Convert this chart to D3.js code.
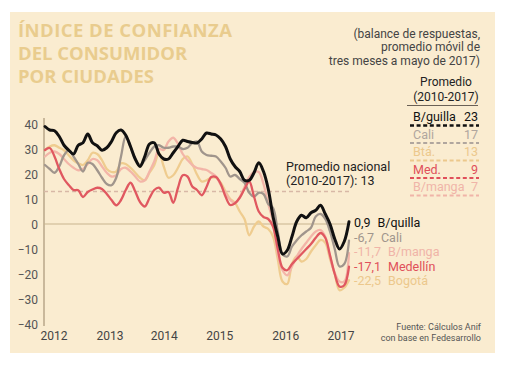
<!DOCTYPE html>
<html><head><meta charset="utf-8">
<script src="https://cdn.jsdelivr.net/npm/d3@7/dist/d3.min.js"></script>
<style>
html,body{margin:0;padding:0;background:#fff;}
svg{display:block;}
text{font-family:"Open Sans",sans-serif;}
</style></head>
<body>
<svg id="chart" width="506" height="366"></svg>
<script>
// ---- data (monthly, Jan 2012 .. May 2017) ----
const barranquilla = [39,37.6,37.3,35,31.5,29.5,28,31.5,32.5,36,32.5,31.3,29.5,30.5,33,36.5,37.6,35.5,31,26,23,27,32,32.5,28,26,26,28.5,31,33.5,33,32.6,32.4,34,36.4,36,35.6,34,31,26,23,21,17.5,17.5,20.5,24.5,21,14,3,-5,-12,-10.5,-5,1,3.5,2.5,4.5,5.5,7.5,4,0,-6,-10,-7,0.9];
const cali = [23.6,22,20.5,23,27.5,29.5,27,24,21,24.5,24,21.5,18.5,16,15.5,18.5,27,35,31,26,23.6,25.5,28.5,31,31.5,30.5,30.5,31,31,30,30.5,32.4,33,29,27.6,27.3,27,25,22.5,19,19.6,18,16.5,12.5,11,12.5,12,8,6.5,-3,-12,-13,-9,-6.5,-4.5,-3,-1.5,3,4,2,-3,-10,-17,-16,-6.7];
const bogota = [29.6,31,31.5,30.5,29.5,27.5,25.5,24.3,23.6,25.5,28.5,28,25.5,22,20.8,21,24.3,24,22.5,20.5,18.5,17.5,20.5,23.5,28.5,23,18.5,19.5,22.5,26,27,24,19.8,17,17.5,18.5,18.5,16.5,13,10,8.5,5,2,-4.5,-1,1,-1,-2,-5,-14,-23,-24,-16,-13,-15,-14,-11,-8.5,-6.4,-7.5,-14,-20,-26.5,-25.5,-22.5];
const medellin = [29.6,30.4,27,22,18,15.6,13.6,13.5,10.8,12.8,13.8,14.5,14,12,9.6,7.5,9.6,13.6,16.5,13,8.8,7,10.4,13.6,14.5,12.5,12.8,8.5,14.5,19.5,19,15,13.6,11.5,14.8,18.8,18.8,16,11,7.6,8.3,10.5,14,17,11,5,2.8,2,-1,-10,-17.5,-18.5,-16,-14,-12,-10,-8,-5.5,-3.6,-5.5,-12.5,-20,-25,-24.5,-17.1];
const bucaramanga = [27,28.5,29,28,26,24,22.5,21.5,22,24,26,25.5,23,20.5,19,19.5,22,22.5,21,19,17,17.5,21,25,30,29.6,33,34.5,32,28,25.6,23.6,22.4,22,21.6,20.4,19,15.6,12.4,9.6,8.4,10.8,14.8,18.8,20.8,20.8,16,8,1,-12,-18.5,-20.5,-17,-13,-10,-7.5,-5,-3,-2.4,-5,-13,-19.6,-23,-23,-11.7];

const seriesNames = ["Bogotá","B/manga","Cali","Medellín","B/quilla"];
const seriesColors = ["#efcc8f","#f3b5a8","#a0958c","#e05860","#111111"];
const seriesData = [bogota, bucaramanga, cali, medellin, barranquilla];
const endLabels = ["0,9","-6,7","-11,7","-17,1","-22,5"];
const endLabelNames = ["B/quilla","Cali","B/manga","Medellín","Bogotá"];
const endLabelColors = ["#111111","#a0958c","#f0b4a8","#e0505a","#ecc88c"];

const legendNames = ["B/guilla","Cali","Btá.","Med.","B/manga"];
const legendValues = [23,17,13,9,7];
const legendColors = ["#111111","#b0a69e","#ecc88c","#e0505a","#f0b4a8"];

const nationalAvg = 13;
const yTicks = [40,30,20,10,0,-10,-20,-30,-40];
const xTickLabels = ["2012","2013","2014","2015","2016","2017"];
const xTickMonths = [1.9,13.7,25.1,36.8,50.7,62.3];

// ---- drawing ----
const svg = d3.select("#chart");
svg.append("rect").attr("x",10).attr("y",12).attr("width",485).attr("height",341).attr("fill","#faecd0");

const x = d3.scaleLinear().domain([0,64]).range([45,349]);
const y = d3.scaleLinear().domain([-40,40]).range([324,124]);

// title
const title = ["ÍNDICE DE CONFIANZA","DEL CONSUMIDOR","POR CIUDADES"];
svg.append("g").selectAll("text").data(title).join("text")
  .attr("x",18).attr("y",(d,i)=>37+i*23)
  .attr("font-size",18.5).attr("font-weight","bold").attr("fill","#e9cc8e")
  .attr("textLength",(d,i)=>i===0?214:null)
  .style("font-family","'Open Sans', sans-serif")
  .text(d=>d);

const sub = ["(balance de respuestas,","promedio móvil de","tres meses a mayo de 2017)"];
svg.append("g").selectAll("text").data(sub).join("text")
  .attr("x",480).attr("y",(d,i)=>37.5+i*13.5).attr("text-anchor","end")
  .attr("font-size",12).attr("fill","#444").style("font-family","Roboto, sans-serif")
  .text(d=>d);

// legend block
svg.append("text").attr("x",446).attr("y",86).attr("text-anchor","middle").attr("font-size",12).attr("fill","#222").style("font-family","Roboto, sans-serif").text("Promedio");
svg.append("text").attr("x",446).attr("y",101).attr("text-anchor","middle").attr("font-size",12).attr("fill","#222").style("font-family","Roboto, sans-serif").text("(2010-2017)");
svg.append("line").attr("x1",407).attr("x2",478).attr("y1",105.5).attr("y2",105.5).attr("stroke","#6a6055").attr("stroke-width",1.2);

const lg = svg.append("g").selectAll("g").data(legendNames).join("g")
  .attr("transform",(d,i)=>`translate(0,${121+i*17.5})`);
lg.append("text").attr("x",413).attr("y",0).attr("font-size",12.5)
  .attr("fill",(d,i)=>legendColors[i]).style("font-family","Roboto, sans-serif").text(d=>d);
lg.append("text").attr("x",478).attr("y",0).attr("text-anchor","end").attr("font-size",12.5)
  .attr("fill",(d,i)=>legendColors[i]).style("font-family","Roboto, sans-serif").text((d,i)=>legendValues[i]);
lg.append("line").attr("x1",410).attr("x2",479).attr("y1",4.5).attr("y2",4.5)
  .attr("stroke",(d,i)=>legendColors[i]).attr("stroke-width",(d,i)=>i===0?2.6:2)
  .attr("stroke-dasharray","4,2.6");

// axes
const yAxis = d3.axisLeft(y).tickValues(yTicks).tickSize(0).tickPadding(6).tickFormat(d3.format("d"));
const gy = svg.append("g").attr("transform","translate(44,0)").call(yAxis);
gy.select(".domain").remove();
gy.selectAll("text").attr("font-size",12).attr("fill","#555").style("font-family","Roboto, sans-serif").attr("dy","0.35em");
svg.append("line").attr("x1",44).attr("x2",44).attr("y1",118).attr("y2",326).attr("stroke","#b9a78a").attr("stroke-width",1.5);

svg.append("g").selectAll("text").data(xTickLabels).join("text")
  .attr("x",(d,i)=>x(xTickMonths[i])).attr("y",340).attr("text-anchor","middle")
  .attr("font-size",12).attr("fill","#444").style("font-family","Roboto, sans-serif").text(d=>d);

// zero line and national average
svg.append("line").attr("x1",44).attr("x2",350).attr("y1",y(0)).attr("y2",y(0)).attr("stroke","#c8b48e").attr("stroke-width",1.2);
svg.append("line").attr("x1",44).attr("x2",349).attr("y1",y(nationalAvg)).attr("y2",y(nationalAvg)).attr("stroke","#d8b8a6").attr("stroke-width",1.3).attr("stroke-dasharray","4,3");
svg.append("text").attr("x",286).attr("y",171).attr("font-size",12.5).attr("fill","#222").style("font-family","Roboto, sans-serif").text("Promedio nacional");
svg.append("text").attr("x",286).attr("y",185).attr("font-size",12.5).attr("fill","#222").style("font-family","Roboto, sans-serif").text("(2010-2017): "+nationalAvg);

// lines
const line = d3.line().x((d,i)=>x(i)).y(d=>y(d)).curve(d3.curveCatmullRom.alpha(0.5));
svg.append("g").selectAll("path").data(seriesData).join("path")
  .attr("d",line).attr("fill","none")
  .attr("stroke",(d,i)=>seriesColors[i])
  .attr("stroke-width",(d,i)=>i===4?3:2.3)
  .attr("stroke-linejoin","round").attr("stroke-linecap","round");

// end labels
const el = svg.append("g").selectAll("g").data(endLabels).join("g")
  .attr("transform",(d,i)=>`translate(354,${227+i*14.5})`);
el.append("text").attr("class","num").attr("x",0).attr("y",0).attr("font-size",12.5)
  .attr("fill",(d,i)=>endLabelColors[i]).style("font-family","Roboto, sans-serif").text(d=>d);
el.each(function(d,i){
  const g = d3.select(this);
  const w = g.select(".num").node().getComputedTextLength();
  g.append("text").attr("x",w+7).attr("y",0).attr("font-size",12.5)
    .attr("fill",endLabelColors[i]).style("font-family","Roboto, sans-serif").text(endLabelNames[i]);
});

// source
svg.append("text").attr("x",481).attr("y",330).attr("text-anchor","end").attr("font-size",9).attr("fill","#555").style("font-family","Roboto, sans-serif").text("Fuente: Cálculos Anif");
svg.append("text").attr("x",481).attr("y",341).attr("text-anchor","end").attr("font-size",9).attr("fill","#555").style("font-family","Roboto, sans-serif").text("con base en Fedesarrollo");
</script>
</body></html>
